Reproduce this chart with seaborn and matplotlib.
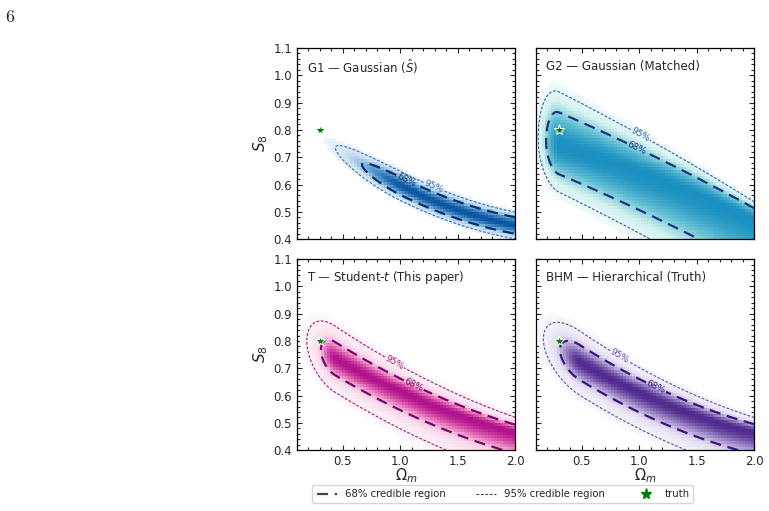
import numpy as np
import matplotlib
matplotlib.use('Agg')
import matplotlib.pyplot as plt
from matplotlib.lines import Line2D
from matplotlib.ticker import MultipleLocator
from matplotlib.colors import PowerNorm
import seaborn as sns

sns.set_style('ticks')
plt.rcParams['font.family'] = ['DejaVu Sans']
plt.rcParams['mathtext.fontset'] = 'dejavusans'

##################################################################
# values
truth_om, truth_s8 = 0.3, 0.8

panel_titles = [r'G1 — Gaussian ($\hat{S}$)', 'G2 — Gaussian (Matched)',
                r'T — Student-$t$ (This paper)', 'BHM — Hierarchical (Truth)']
panel_colors = [['#ffffff', '#c6dcef', '#5da0d2', '#0b559f'],
                ['#ffffff', '#d2f1ee', '#62bfd3', '#1a8fc0'],
                ['#ffffff', '#f8d0e6', '#e060ae', '#b0128a'],
                ['#ffffff', '#e2dcef', '#9784c4', '#512a8e']]
color68 = ['#0b2f6e', '#1b3580', '#7a0770', '#3d1380']
color95 = ['#2a6cc0', '#2c5fb0', '#a8117f', '#6a46b0']

# ridge of the posterior banana: (Omega_m, S8) knots
ridge_om = [[0.45, 1.0, 2.0], [0.25, 1.0, 2.0], [0.3, 1.0, 2.0], [0.3, 1.0, 2.0]]
ridge_s8 = [[0.73, 0.595, 0.45], [0.75, 0.643, 0.475], [0.77, 0.615, 0.466], [0.77, 0.61, 0.466]]
# low-Omega_m edge of the banana: start of the plateau and fall-off width
along_start = [1.04, 0.30, 0.432, 0.481]
along_width = [0.247, 0.074, 0.072, 0.106]
# width above / below the ridge at Omega_m = 0.3 and 2.0
sigma_up = [[0.023, 0.020], [0.080, 0.025], [0.036, 0.016], [0.040, 0.018]]
sigma_low = [[0.023, 0.020], [0.070, 0.120], [0.036, 0.046], [0.040, 0.050]]
tail_nu = [None, None, 5, 8]

# contour label positions (Omega_m, S8)
label68_pos = [(1.06, 0.625), (0.95, 0.71), (1.115, 0.636), (1.15, 0.636)]
label95_pos = [(1.30, 0.60), (0.96, 0.745), (0.94, 0.715), (0.817, 0.737)]
##################################################################

def r2_field(om, s8, k):
    coef = np.polyfit(ridge_om[k], ridge_s8[k], 2)
    ridge = np.polyval(coef, om)
    frac = (om - 0.3) / 1.7
    su = sigma_up[k][0] + (sigma_up[k][1] - sigma_up[k][0]) * frac
    sl = sigma_low[k][0] + (sigma_low[k][1] - sigma_low[k][0]) * frac
    d = s8 - ridge
    sd = np.where(d > 0, su, sl)
    a = np.where(om < along_start[k], (om - along_start[k]) / along_width[k], 0.0)
    return a**2 + (d / sd)**2

def profile(r2, nu):
    if nu is None:
        return np.exp(-0.5 * r2)
    return (1 + r2 / nu)**(-(nu + 2) / 2)

def r2_level(p, nu):
    if nu is None:
        return -2 * np.log(1 - p)
    return nu * ((1 - p)**(-2 / nu) - 1)

##################################################################
fig = plt.figure(figsize=(7.69, 5.11), dpi=100)
ax_pos = [[0.386, 0.532, 0.284, 0.374], [0.697, 0.532, 0.284, 0.374],
          [0.386, 0.119, 0.284, 0.374], [0.697, 0.119, 0.284, 0.374]]
axes = [fig.add_axes(p) for p in ax_pos]

# coarse grid for the shaded density, fine grid for contours
om_c = np.linspace(0.1, 2.0, 74)
s8_c = np.linspace(0.4, 1.1, 65)
OMc, S8c = np.meshgrid(0.5 * (om_c[1:] + om_c[:-1]), 0.5 * (s8_c[1:] + s8_c[:-1]))
om_f = np.linspace(0.1, 2.0, 400)
s8_f = np.linspace(0.4, 1.1, 400)
OMf, S8f = np.meshgrid(om_f, s8_f)

for k, ax in enumerate(axes):
    nu = tail_nu[k]
    lev68 = profile(r2_level(0.68, nu), nu)
    lev95 = profile(r2_level(0.95, nu), nu)

    dens = profile(r2_field(OMc, S8c, k), nu)
    dens = np.ma.masked_less(dens, 0.35 * lev95)
    cmap = sns.blend_palette(panel_colors[k], as_cmap=True)
    ax.pcolormesh(om_c, s8_c, dens, cmap=cmap, norm=PowerNorm(0.55, vmin=0, vmax=1.0),
                  shading='flat', rasterized=True)

    densf = profile(r2_field(OMf, S8f, k), nu)
    cs95 = ax.contour(OMf, S8f, densf, levels=[lev95], colors=color95[k], linewidths=0.8)
    cs95.set_linestyle((0, (2.5, 1.5)))
    cs68 = ax.contour(OMf, S8f, densf, levels=[lev68], colors=color68[k], linewidths=1.6)
    cs68.set_linestyle((0, (5, 3)))
    ax.clabel(cs68, fmt={lev68: '68%'}, manual=[label68_pos[k]], fontsize=6.5, inline=True, inline_spacing=1)
    ax.clabel(cs95, fmt={lev95: '95%'}, manual=[label95_pos[k]], fontsize=6.5, inline=True, inline_spacing=1)

    ax.plot(truth_om, truth_s8, marker='*', color='green', ms=8, mec='white', mew=0.7, ls='none', zorder=5)

    ax.text(0.045, 0.905, panel_titles[k], transform=ax.transAxes, ha='left', va='center', fontsize=8.5)

    ax.set_xlim(0.1, 2.0)
    ax.set_ylim(0.4, 1.1)
    ax.xaxis.set_major_locator(MultipleLocator(0.5))
    ax.xaxis.set_minor_locator(MultipleLocator(0.1))
    ax.yaxis.set_major_locator(MultipleLocator(0.1))
    ax.yaxis.set_minor_locator(MultipleLocator(0.02))
    ax.tick_params(which='both', direction='in', top=True, right=True, labelsize=8.5, width=0.8)
    ax.tick_params(which='major', length=3.5)
    ax.tick_params(which='minor', length=2)
    for sp in ax.spines.values():
        sp.set_linewidth(0.9)
        sp.set_color('black')
    if k in (0, 2):
        ax.set_ylabel(r'$S_8$', fontsize=11, labelpad=2)
    else:
        ax.set_yticklabels([])
    if k in (2, 3):
        ax.set_xlabel(r'$\Omega_m$', fontsize=10.5, labelpad=-1)
    else:
        ax.set_xticklabels([])

handles = [Line2D([], [], color='#444444', lw=1.6, ls=(0, (5, 3))),
           Line2D([], [], color='#444444', lw=0.8, ls=(0, (2.5, 1.5))),
           Line2D([], [], marker='*', color='green', ls='none', ms=8)]
fig.legend(handles, ['68% credible region', '95% credible region', 'truth'],
           loc='center', bbox_to_anchor=(0.654, 0.033), ncol=3, fontsize=7.3,
           columnspacing=3.0, handlelength=2.0, frameon=True, edgecolor='#cccccc',
           borderpad=0.4)

fig.text(0.007, 0.985, r'$6$', math_fontfamily='cm', fontsize=13, ha='left', va='top')

plt.savefig('out.png', dpi=100)
